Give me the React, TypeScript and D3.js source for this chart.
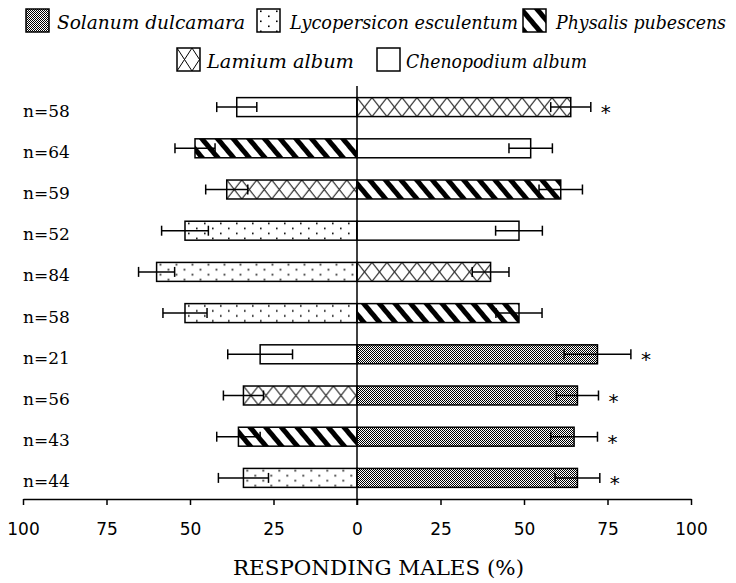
import React, { useEffect, useRef } from "react";
import * as d3 from "d3";

// ---- data ----
const rowLabels = ["n=58", "n=64", "n=59", "n=52", "n=84", "n=58", "n=21", "n=56", "n=43", "n=44"];
const leftSeries = ["Chenopodium", "Physalis", "Lamium", "Lycopersicon", "Lycopersicon", "Lycopersicon", "Chenopodium", "Lamium", "Physalis", "Lycopersicon"];
const leftValues = [36, 48.5, 39, 51.5, 60, 51.5, 29, 34, 35.5, 34];
const leftErrors = [6, 6, 6.3, 7, 5.4, 6.6, 9.7, 6, 6.5, 7.5];
const rightSeries = ["Lamium", "Chenopodium", "Physalis", "Chenopodium", "Lamium", "Physalis", "Solanum", "Solanum", "Solanum", "Solanum"];
const rightValues = [64, 52, 61, 48.5, 40, 48.5, 72, 66, 65, 66];
const rightErrors = [6, 6.5, 6.5, 7, 5.5, 6.9, 10, 6.3, 7, 6.7];
const significant = [true, false, false, false, false, false, true, true, true, true];
const legendKeys = ["Solanum", "Lycopersicon", "Physalis", "Lamium", "Chenopodium"];
const legendNames = ["Solanum dulcamara", "Lycopersicon esculentum", "Physalis pubescens", "Lamium album", "Chenopodium album"];
const tickValues = [-100, -75, -50, -25, 0, 25, 50, 75, 100];
const axisTitle = "RESPONDING MALES (%)";

// ---- layout ----
const W = 736, H = 583;
const legendLayout = [
  { sx: 26, sy: 9, tx: 57, tw: 188 },
  { sx: 257, sy: 9, tx: 290, tw: 228 },
  { sx: 523, sy: 9, tx: 556, tw: 170 },
  { sx: 177, sy: 48, tx: 207, tw: 147 },
  { sx: 377, sy: 48, tx: 406, tw: 181 },
];
const SW = 23;

function addPattern(defs: any, id: string, kind: string, x: number, y: number, h: number) {
  if (kind === "Solanum") {
    const p = defs.append("pattern").attr("id", id).attr("patternUnits", "userSpaceOnUse")
      .attr("width", 2).attr("height", 2);
    p.append("rect").attr("width", 2).attr("height", 2).attr("fill", "#ffffff");
    p.append("rect").attr("x", 0).attr("y", 0).attr("width", 1).attr("height", 1).attr("fill", "#000");
    p.append("rect").attr("x", 1).attr("y", 1).attr("width", 1).attr("height", 1).attr("fill", "#000");
    p.attr("shape-rendering", "crispEdges");
  } else if (kind === "Lycopersicon") {
    const p = defs.append("pattern").attr("id", id).attr("patternUnits", "userSpaceOnUse")
      .attr("x", x).attr("y", y).attr("width", 16).attr("height", 10);
    p.append("rect").attr("width", 16).attr("height", 10).attr("fill", "#fff");
    p.append("rect").attr("x", 3).attr("y", 1.5).attr("width", 1.6).attr("height", 1.6).attr("fill", "#000");
    p.append("rect").attr("x", 11).attr("y", 6.5).attr("width", 1.6).attr("height", 1.6).attr("fill", "#000");
  } else if (kind === "Physalis") {
    const p = defs.append("pattern").attr("id", id).attr("patternUnits", "userSpaceOnUse")
      .attr("x", x).attr("y", y).attr("width", 12).attr("height", 12)
      .attr("patternTransform", "rotate(-40)");
    p.append("rect").attr("width", 12).attr("height", 12).attr("fill", "#fff");
    p.append("rect").attr("x", 0).attr("width", 5).attr("height", 12).attr("fill", "#000");
  } else if (kind === "Lamium") {
    const w = 15;
    const p = defs.append("pattern").attr("id", id).attr("patternUnits", "userSpaceOnUse")
      .attr("x", x).attr("y", y).attr("width", w).attr("height", h);
    p.append("rect").attr("width", w).attr("height", h).attr("fill", "#fff");
    p.append("line").attr("x1", 0).attr("y1", 0).attr("x2", w).attr("y2", h).attr("stroke", "#000").attr("stroke-width", 1);
    p.append("line").attr("x1", w).attr("y1", 0).attr("x2", 0).attr("y2", h).attr("stroke", "#000").attr("stroke-width", 1);
  }
}

function fillFor(kind: string, id: string) {
  return kind === "Chenopodium" ? "#ffffff" : `url(#${id})`;
}

export default function App() {
  const ref = useRef<SVGSVGElement | null>(null);

  useEffect(() => {
    const svg = d3.select(ref.current);
    svg.selectAll("*").remove();
    const defs = svg.append("defs");

    const x = d3.scaleLinear().domain([-100, 100]).range([23, 691]);
    const y = d3.scaleBand<string>()
      .domain(rowLabels.map((_, i) => String(i)))
      .range([86.5, 498.5]).paddingInner(0.54).paddingOuter(0.27);
    const bh = y.bandwidth();
    const x0 = x(0);

    // legend
    legendKeys.forEach((k, i) => {
      const L = legendLayout[i];
      const id = `leg-${i}`;
      addPattern(defs, id, k, L.sx, L.sy, SW);
      svg.append("rect").attr("x", L.sx).attr("y", L.sy).attr("width", SW).attr("height", SW)
        .attr("fill", fillFor(k, id)).attr("stroke", "#000").attr("stroke-width", 1.5);
      svg.append("text").attr("x", L.tx).attr("y", L.sy + 20)
        .attr("font-family", "DejaVu Serif").attr("font-style", "italic").attr("font-size", 18)
        .attr("textLength", L.tw).attr("lengthAdjust", "spacingAndGlyphs")
        .attr("fill", "#000").text(legendNames[i]);
    });

    // bars
    rowLabels.forEach((lab, i) => {
      const top = y(String(i))!;
      const cy = top + bh / 2;
      const lv = leftValues[i], le = leftErrors[i];
      const lx = x(-lv);
      const lid = `bl-${i}`;
      addPattern(defs, lid, leftSeries[i], lx, top, bh);
      svg.append("rect").attr("x", lx).attr("y", top).attr("width", x0 - lx).attr("height", bh)
        .attr("fill", fillFor(leftSeries[i], lid)).attr("stroke", "#000").attr("stroke-width", 1.5);
      const rv = rightValues[i], re = rightErrors[i];
      const rid = `br-${i}`;
      addPattern(defs, rid, rightSeries[i], x0, top, bh);
      svg.append("rect").attr("x", x0).attr("y", top).attr("width", x(rv) - x0).attr("height", bh)
        .attr("fill", fillFor(rightSeries[i], rid)).attr("stroke", "#000").attr("stroke-width", 1.5);

      const errs = [
        [x(-(lv + le)), x(-(lv - le))],
        [x(rv - re), x(rv + re)],
      ];
      errs.forEach(([a, b]) => {
        svg.append("line").attr("x1", a).attr("x2", b).attr("y1", cy).attr("y2", cy)
          .attr("stroke", "#000").attr("stroke-width", 1.5);
        [a, b].forEach((xx) => {
          svg.append("line").attr("x1", xx).attr("x2", xx).attr("y1", cy - 5).attr("y2", cy + 5)
            .attr("stroke", "#000").attr("stroke-width", 1.5);
        });
      });

      if (significant[i]) {
        svg.append("text").attr("x", x(rv + re) + 10).attr("y", cy + 12)
          .attr("font-family", "DejaVu Sans").attr("font-size", 20).attr("fill", "#000").text("*");
      }

      svg.append("text").attr("x", 23).attr("y", cy + 9.5)
        .attr("font-family", "DejaVu Serif").attr("font-size", 17).attr("fill", "#000").text(lab);
    });

    // zero line
    svg.append("line").attr("x1", x0).attr("x2", x0).attr("y1", 86).attr("y2", 505)
      .attr("stroke", "#000").attr("stroke-width", 1.5);

    // axis
    const axis = d3.axisBottom(x).tickValues(tickValues).tickFormat((d: any) => String(Math.abs(d)))
      .tickSize(6).tickSizeOuter(0).tickPadding(18);
    const g = svg.append("g").attr("transform", "translate(0,499)").call(axis as any);
    g.select(".domain").attr("stroke", "#000").attr("stroke-width", 1.5);
    g.selectAll(".tick line").attr("stroke", "#000").attr("stroke-width", 1.5);
    g.selectAll(".tick text").attr("font-family", "DejaVu Sans").attr("font-size", 17).attr("fill", "#000");

    // title
    svg.append("text").attr("x", 233).attr("y", 575)
      .attr("font-family", "DejaVu Serif").attr("font-size", 21)
      .attr("textLength", 291).attr("lengthAdjust", "spacingAndGlyphs")
      .attr("fill", "#000").text(axisTitle);
  }, []);

  return (
    <svg ref={ref} width={W} height={H} style={{ position: "absolute", left: 0, top: 0, background: "#fff" }} />
  );
}
